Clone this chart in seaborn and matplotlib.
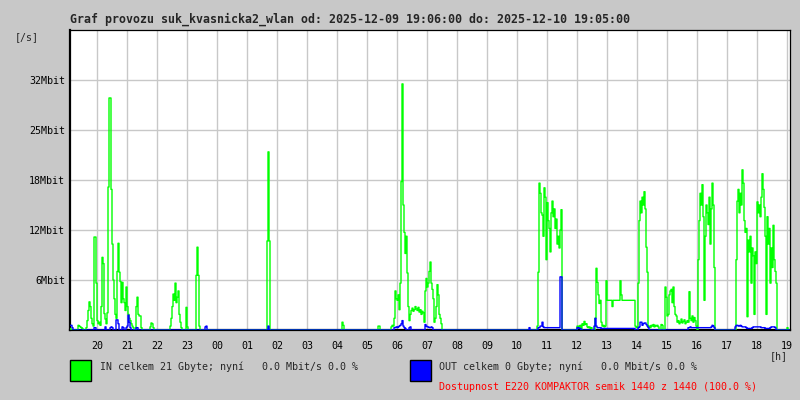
import numpy as np
import pandas as pd
import matplotlib
matplotlib.use('Agg')
from matplotlib import pyplot as plt
from matplotlib.patches import Rectangle
import seaborn as sns

# one value per 2 minute slot (720 slots = 24 h), Mbit/s
# IN bursts: start slot + values
in_2000 = [0.2, 0, 0, 0, 0, 0, 0, 0, 0.6, 0.5,
           0.4, 0.3, 0.2, 0, 0, 0, 0.3, 1.2, 2.5, 3.6,
           3.0, 1.5, 0.8, 0.5, 11.9, 11.9, 6.0, 1.2, 0.8, 1.0,
           0.6, 3.0, 9.3, 8.5, 2.1, 1.4, 0.8, 2.2, 18.3, 29.7,
           29.7, 18.0, 11.0, 6.4, 4.0, 2.0, 1.5, 7.5, 11.1, 7.4,
           6.2, 3.5, 6.1, 4.0, 3.5, 2.5, 5.5, 3.0, 2.0, 1.5,
           1.2, 0.8, 0.5, 0.3, 0, 0, 3.0, 4.2, 2.0, 1.8,
           1.8, 0.3, 0, 0, 0, 0, 0, 0, 0, 0,
           0.4, 0.9, 0.8, 0.3, 0, 0, 0, 0, 0, 0,
           0, 0, 0, 0, 0, 0, 0, 0, 0, 0,
           0.5, 1.5, 3.0, 4.6, 3.8, 6.0, 3.5, 4.2, 5.0, 2.0,
           1.0, 0.3, 0, 0, 0, 0, 2.9, 0.4, 0, 0,
           0, 0, 0, 0, 0, 0, 7.0, 10.6, 7.0, 0.5]
in_0140 = [0, 11.4, 22.8, 11.4, 0]
in_0415 = [1.0, 0.6, 0]
in_0600 = [0, 0, 0.5, 0.5, 0, 0, 0, 0, 0, 0,
           0, 0, 0, 0, 0, 0.4, 0.6, 0.5, 1.5, 5.0,
           4.0, 3.8, 4.5, 2.6, 6.0, 19.0, 31.5, 16.0, 12.5, 9.8,
           12.0, 7.3, 3.0, 1.2, 2.0, 2.5, 2.8, 2.4, 2.6, 3.0,
           2.7, 2.5, 2.9, 2.3, 2.6, 2.0, 2.4, 2.2, 1.0, 5.0,
           6.6, 5.5, 6.0, 7.5, 8.7, 6.0, 5.2, 4.0, 1.0, 1.5,
           3.0, 5.8, 4.5, 2.0, 1.5, 0.8, 0]
in_1100 = [0, 0, 0, 0, 0, 0, 0, 0, 0, 0.5,
           7.4, 18.8, 17.5, 15.0, 14.7, 12.0, 18.2, 17.0, 9.0, 16.3,
           14.0, 13.0, 10.0, 15.0, 16.5, 14.5, 15.5, 13.0, 14.2, 11.0,
           12.0, 10.5, 12.8, 15.4, 0, 0]
in_1245 = [0, 0.5, 0.5, 0.4, 0.6, 0, 0.8, 0.6, 1.1, 0.7,
           0.8, 0.4, 0.3, 0.4, 0.2, 0.3, 0, 0, 0, 1.5,
           7.9, 6.1, 4.5, 3.4, 3.8, 1.0, 0.5, 0.6, 0.4, 0.5,
           6.3, 3.8, 3.8, 3.8, 3.8, 3.8, 3.0, 3.8, 3.8, 3.8,
           3.8, 3.8, 3.8, 3.8, 6.3, 4.5, 3.8, 3.8, 3.8, 3.8,
           3.8, 3.8, 3.8, 3.8, 3.8, 3.8, 3.8, 3.8, 3.8, 0.5,
           0.3, 0.4, 6.0, 14.0, 16.5, 15.0, 17.0, 16.0, 17.7, 15.5,
           10.6, 7.4, 0.4, 0.5]
in_1510 = [0.3, 0.6, 0.5, 0.7, 0.4, 0.6, 0.5, 0.6,
           0.4, 0, 0, 0.7, 0.6, 0, 0, 5.5, 4.2, 1.8,
           2.0, 4.5, 5.0, 5.2, 3.5, 5.5, 3.0, 2.0, 1.8, 1.0,
           1.2, 0.8, 1.0, 1.4, 0.9, 1.1, 1.3, 0.8, 1.0, 1.2,
           1.0, 4.9, 1.5, 1.2, 1.8, 1.0, 1.6, 1.2, 0.5, 0,
           9.0, 14.0, 17.5, 16.0, 18.6, 14.5, 3.8, 12.0, 16.0, 15.0,
           13.5, 17.0, 11.0, 15.5, 18.8, 16.0, 8.0, 0, 0, 0]
in_1720 = [0, 0, 9.0, 16.5, 18.0, 15.0, 17.5, 16.0, 20.5, 18.8,
           14.0, 12.5, 13.0, 1.7, 11.5, 10.0, 12.0, 6.0, 10.5, 9.5,
           2.0, 10.0, 8.5, 16.4, 15.0, 16.0, 14.5, 17.0, 20.0, 18.0,
           15.7, 12.0, 2.0, 14.5, 11.0, 13.0, 6.0, 10.5, 8.0, 13.4,
           9.0, 7.5, 6.0, 0, 0]
in_1900 = [0.3]
in_starts = [0, 196, 272, 306, 458, 506, 580, 664, 717]
in_bursts = [in_2000, in_0140, in_0415, in_0600, in_1100, in_1245, in_1510, in_1720, in_1900]

# OUT bursts
out_2000 = [0.6, 0.6, 0.3, 0]
out_2050 = [0.3, 0.3, 0, 0, 0, 0, 0, 0, 0, 0,
            0, 0.4, 0, 0, 0, 0, 0.3, 0.4, 0.3, 0,
            0, 0, 1.3, 1.3, 0.8, 0, 0, 0, 0.4, 0.3,
            0, 0, 0.3, 0.5, 1.9, 1.0, 0.3, 0]
out_2150 = [0.3, 0.3, 0]
out_2340 = [0.4, 0.5, 0]
out_0140 = [0.5]
out_0620 = [0.3, 0.3, 0.4, 0.3, 0.4, 0.5, 0.6, 0.8, 1.2, 0.5,
            0.3, 0.2, 0, 0, 0, 0.3, 0.4, 0, 0, 0,
            0, 0, 0, 0, 0, 0, 0, 0, 0, 0,
            0, 0.7, 0.5, 0.4, 0.4, 0.3, 0.3, 0.4, 0.3, 0]
out_1100 = [0, 0.3, 0, 0, 0, 0, 0, 0, 0, 0,
            0.3, 0.3, 0.5, 0.5, 1.0, 0.4, 0.3, 0.3, 0.3, 0.3,
            0.3, 0.3, 0.3, 0.3, 0.3, 0.3, 0.3, 0.3, 0.3, 0.3,
            0.3, 0.3, 6.8, 6.8, 0]
out_1245 = [0, 0.3, 0.3, 0.2, 0.2, 0, 0, 0, 0, 0,
            0, 0, 0, 0, 0, 0, 0, 0, 0.5, 1.5,
            0.5, 0.3, 0.3, 0.3, 0.3, 0.2, 0.2, 0.2, 0.2, 0.2,
            0.2, 0.2, 0.2, 0.2, 0.2, 0.2, 0.2, 0.2, 0.2, 0.2,
            0.2, 0.2, 0.2, 0.2, 0.2, 0.2, 0.2, 0.2, 0.2, 0.2,
            0.2, 0.2, 0.2, 0.2, 0.2, 0.2, 0.2, 0.2, 0.2, 0,
            0, 0, 0.3, 0.4, 1.0, 1.0, 0.6, 0.8, 0.9, 0.9,
            0.7, 0.5, 0.3, 0]
out_1630 = [0, 0, 0.3, 0.3, 0.4, 0.3, 0.3, 0.3, 0.3, 0.3,
            0.3, 0.3, 0.3, 0.3, 0.3, 0.3, 0.3, 0.3, 0.3, 0.3,
            0.3, 0.3, 0.3, 0.3, 0.3, 0.4, 0.6, 0.5, 0.3, 0]
out_1720 = [0.4, 0.6, 0.6, 0.5, 0.5, 0.6, 0.5, 0.4, 0.4, 0.4,
            0.4, 0.3, 0.2, 0.2, 0.2, 0.2, 0.2, 0.3, 0.4, 0.4,
            0.4, 0.4, 0.4, 0.4, 0.4, 0.4, 0.3, 0.3, 0.3, 0.3,
            0.2, 0.2, 0.2, 0.2, 0.2, 0.3, 0.4, 0.4, 0.4, 0.4, 0.3, 0]
out_starts = [0, 24, 66, 135, 198, 324, 458, 506, 616, 665]
out_bursts = [out_2000, out_2050, out_2150, out_2340, out_0140, out_0620,
              out_1100, out_1245, out_1630, out_1720]

hour_labels = ['20', '21', '22', '23', '00', '01', '02', '03', '04', '05', '06', '07',
               '08', '09', '10', '11', '12', '13', '14', '15', '16', '17', '18', '19']
y_ticks = [6.4, 12.8, 19.2, 25.6, 32.0]
y_labels = ['6Mbit', '12Mbit', '18Mbit', '25Mbit', '32Mbit']

title = 'Graf provozu suk_kvasnicka2_wlan od: 2025-12-09 19:06:00 do: 2025-12-10 19:05:00'
in_text = 'IN celkem 21 Gbyte; nyní   0.0 Mbit/s 0.0 %'
out_text = 'OUT celkem 0 Gbyte; nyní   0.0 Mbit/s 0.0 %'
avail_text = 'Dostupnost E220 KOMPAKTOR semik 1440 z 1440 (100.0 %)'

# assemble the 24h series
inbound = np.zeros(720)
for s, v in zip(in_starts, in_bursts):
    inbound[s:s + len(v)] = v
outbound = np.zeros(720)
for s, v in zip(out_starts, out_bursts):
    outbound[s:s + len(v)] = v

df = pd.DataFrame({'minuta': np.arange(720) * 2 + 1, 'IN': inbound, 'OUT': outbound})

sns.set_theme(style='white')
plt.rcParams['font.family'] = ['DejaVu Sans Mono', 'DejaVu Sans']
bg = '#c8c8c8'

fig = plt.figure(figsize=(8, 4), dpi=100, facecolor=bg)
ax = fig.add_axes([70 / 800, 70 / 400, 720 / 800, 300 / 400])
ax.set_facecolor('white')

sns.lineplot(data=df, x='minuta', y='IN', color='#00ff00', lw=1.0,
             drawstyle='steps-mid', estimator=None, ax=ax, zorder=3)
sns.lineplot(data=df, x='minuta', y='OUT', color='#0000ff', lw=1.0,
             drawstyle='steps-mid', estimator=None, ax=ax, zorder=4)

ax.set_xlim(0, 1440)
ax.set_ylim(0, 38.4)
ax.set_xticks([54 + 60 * i for i in range(24)])
ax.set_xticklabels(hour_labels)
ax.set_yticks(y_ticks)
ax.set_yticklabels(y_labels)
ax.set_xlabel('')
ax.set_ylabel('')
ax.tick_params(axis='both', length=0, labelsize=7.2, colors='black')
ax.tick_params(axis='x', pad=8)
ax.tick_params(axis='y', pad=3.5)
ax.grid(True, color='#c8c8c8', lw=1.0)
ax.set_axisbelow(True)
for side in ['left', 'bottom']:
    ax.spines[side].set_linewidth(1.6)
for side in ['top', 'right']:
    ax.spines[side].set_linewidth(0.9)
for side in ax.spines:
    ax.spines[side].set_color('black')

fig.text(70 / 800, 1 - 19 / 400, title, fontsize=8.4, weight='bold', va='center', ha='left')
fig.text(15 / 800, 1 - 37 / 400, '[/s]', fontsize=7.2, va='center', ha='left')
fig.text(788 / 800, 1 - 356 / 400, '[h]', fontsize=7.2, va='center', ha='right')

fig.patches.append(Rectangle((70 / 800, 1 - 381 / 400), 21 / 800, 21 / 400, facecolor='#00ff00',
                             edgecolor='black', lw=1, transform=fig.transFigure, figure=fig))
fig.patches.append(Rectangle((410 / 800, 1 - 381 / 400), 21 / 800, 21 / 400, facecolor='#0000ff',
                             edgecolor='black', lw=1, transform=fig.transFigure, figure=fig))
fig.text(100 / 800, 1 - 367 / 400, in_text, fontsize=7.2, va='center', ha='left')
fig.text(439 / 800, 1 - 367 / 400, out_text, fontsize=7.2, va='center', ha='left')
fig.text(439 / 800, 1 - 387 / 400, avail_text, fontsize=7.2, va='center', ha='left', color='#ff0000')

fig.savefig('out.png', dpi=100, facecolor=bg)
